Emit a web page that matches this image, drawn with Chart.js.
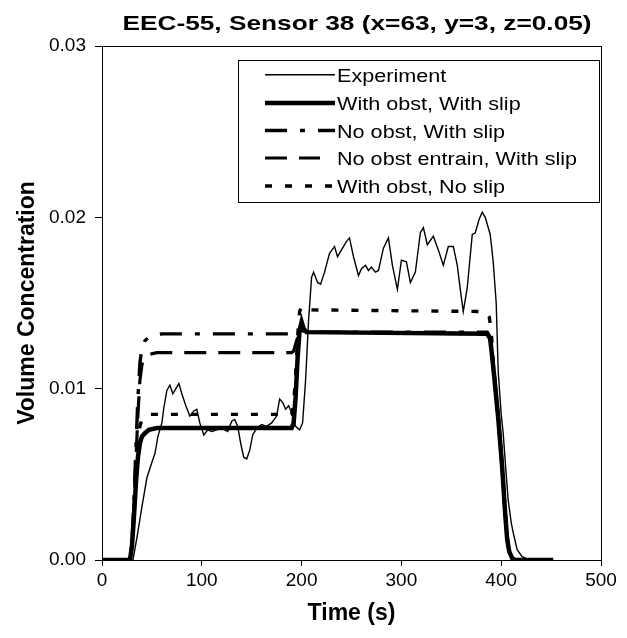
<!DOCTYPE html>
<html><head><meta charset="utf-8">
<script src="https://cdn.jsdelivr.net/npm/chart.js@4.4.0/dist/chart.umd.min.js"></script>
<style>html,body{margin:0;padding:0;background:#fff}</style>
</head><body>
<canvas id="c" width="627" height="638"></canvas>
<script>
const titleText = 'EEC-55, Sensor 38 (x=63, y=3, z=0.05)';
const xTitle = 'Time (s)';
const yTitle = 'Volume Concentration';
const xTickValues = [0, 100, 200, 300, 400, 500];
const yTickValues = [0.00, 0.01, 0.02, 0.03];
const seriesNames = ['Experiment', 'With obst, With slip', 'No obst, With slip', 'No obst entrain, With slip', 'With obst, No slip'];

// Experiment
const expT = [0,31,35,40,45,50,53,56,60,62,65,68,71,74,77,80,84,88,92,95,98,102,106,110,115,120,126,130,133,136,139,142,145,148,151,155,160,165,170,175,178,181,184,187,190,194,198,201,204,207,210,212,216,219,223,228,233,236,241,245,248,252,257,260,264,267,270,274,277,282,287,291,296,300,305,309,314,319,322,326,332,337,342,347,352,356,359,362,366,371,374,378,381,384,389,392,395,397,400,402,405,407,410,412,416,421,428,452];
const expC = [0,0,0.0013,0.0031,0.0048,0.0057,0.0062,0.0072,0.0080,0.0089,0.0099,0.0102,0.0097,0.0100,0.0103,0.0097,0.0090,0.0084,0.0087,0.0088,0.0080,0.0073,0.0076,0.0075,0.0076,0.0077,0.0075,0.0081,0.0082,0.0078,0.0068,0.0060,0.0059,0.0064,0.0073,0.0077,0.0079,0.0078,0.0080,0.0084,0.0094,0.0092,0.0088,0.0090,0.0086,0.0078,0.0076,0.0080,0.0105,0.0140,0.0165,0.0168,0.0162,0.0161,0.0168,0.0179,0.0183,0.0177,0.0182,0.0186,0.0188,0.0177,0.0166,0.0170,0.0172,0.0169,0.0171,0.0168,0.0169,0.0182,0.0188,0.0172,0.0158,0.0175,0.0174,0.0162,0.0168,0.0191,0.0194,0.0184,0.0189,0.0181,0.0172,0.0183,0.0183,0.0172,0.0158,0.0145,0.0159,0.0190,0.0191,0.0199,0.0203,0.0200,0.0190,0.0174,0.0150,0.0110,0.0085,0.0074,0.0050,0.0035,0.0022,0.0016,0.0006,0.0002,0,0];

// With obst, With slip
const wowsT = [0,28,30,32,34,36,38,40,43,47,55,190,192,194,196,198,200,202,205,386,389,392,397,401,404,406,408,411,414,452];
const wowsC = [0,0,0.0008,0.0025,0.0045,0.0060,0.0068,0.0072,0.0074,0.0076,0.0077,0.0077,0.0080,0.0095,0.0118,0.0134,0.0139,0.0135,0.0133,0.0132,0.0129,0.0113,0.0083,0.0054,0.0027,0.0012,0.0005,0.0001,0,0];

// No obst, With slip
const nowsT = [0,28,30,32,34,36,38,40,43,47,52,60,190,193,200,205,386,389,392,397,401,404,406,408,411,414,452];
const nowsC = [0,0,0.0010,0.0035,0.0065,0.0095,0.0115,0.0124,0.0128,0.0130,0.0131,0.0132,0.0132,0.0133,0.0134,0.0133,0.0133,0.0130,0.0114,0.0084,0.0055,0.0028,0.0013,0.0005,0.0001,0,0];

// No obst entrain, With slip
const noewsT = [0,28,30,32,34,36,38,40,43,47,55,190,192,195,198,205,386,389,392,397,401,404,406,408,411,414,452];
const noewsC = [0,0,0.0009,0.0030,0.0058,0.0085,0.0105,0.0114,0.0118,0.0120,0.0121,0.0121,0.0122,0.0128,0.0133,0.0133,0.0132,0.0129,0.0112,0.0082,0.0053,0.0026,0.0012,0.0005,0.0001,0,0];

// With obst, No slip
const wonsT = [0,28,30,32,34,36,38,40,43,48,190,192,194,196,198,200,203,208,385,388,390,392,397,401,404,406,408,411,414,452];
const wonsC = [0,0,0.0008,0.0028,0.0052,0.0068,0.0078,0.0082,0.0084,0.0085,0.0085,0.0090,0.0108,0.0130,0.0145,0.0148,0.0147,0.0146,0.0145,0.0142,0.0134,0.0115,0.0084,0.0055,0.0028,0.0013,0.0005,0.0001,0,0];

const pts = (t, c) => t.map((v, i) => ({x: v, y: c[i]}));

const styles = [
  {borderWidth: 1.4, borderDash: []},
  {borderWidth: 4.5, borderDash: []},
  {borderWidth: 3.4, borderDash: [22, 13, 5, 13]},
  {borderWidth: 3.2, borderDash: [22, 12]},
  {borderWidth: 3.4, borderDash: [7, 13]}
];
const seriesData = [pts(expT, expC), pts(wowsT, wowsC), pts(nowsT, nowsC), pts(noewsT, noewsC), pts(wonsT, wonsC)];

const datasets = seriesNames.map((n, i) => ({
  label: n,
  data: seriesData[i],
  borderColor: '#000',
  backgroundColor: '#000',
  borderWidth: styles[i].borderWidth,
  borderDash: styles[i].borderDash,
  pointRadius: 0,
  tension: 0,
  fill: false,
  order: i
}));

const FONT = "'Liberation Sans', Arial, sans-serif";

const decor = {
  id: 'decor',
  afterDraw(chart) {
    const ctx = chart.ctx;
    const a = chart.chartArea;
    ctx.save();
    ctx.strokeStyle = '#000';
    ctx.lineWidth = 1;
    ctx.setLineDash([]);
    ctx.strokeRect(a.left + 0.5, a.top + 0.5, a.right - a.left, a.bottom - a.top);
    ctx.fillStyle = '#000';
    ctx.font = 'bold 21px ' + FONT;
    ctx.textBaseline = 'alphabetic';
    ctx.textAlign = 'center';
    ctx.save();
    ctx.translate(357, 30);
    ctx.scale(1.25, 1);
    ctx.fillText(titleText, 0, 0);
    ctx.restore();
    const bx = 238, by = 60, bw = 361, bh = 142;
    ctx.fillStyle = '#fff';
    ctx.fillRect(bx, by, bw, bh);
    ctx.strokeStyle = '#000';
    ctx.lineWidth = 1;
    ctx.strokeRect(bx + 0.5, by + 0.5, bw, bh);
    const baselines = [81.7, 110, 137.5, 165, 193];
    const lineEnds = [335, 335, 335, 320, 335];
    chart.data.datasets.forEach((ds, i) => {
      const ly = baselines[i] - 7;
      ctx.save();
      ctx.strokeStyle = '#000';
      ctx.lineWidth = ds.borderWidth;
      ctx.setLineDash(ds.borderDash || []);
      ctx.beginPath();
      ctx.moveTo(265, ly);
      ctx.lineTo(lineEnds[i], ly);
      ctx.stroke();
      ctx.restore();
      ctx.save();
      ctx.fillStyle = '#000';
      ctx.font = '18px ' + FONT;
      ctx.textAlign = 'left';
      ctx.textBaseline = 'alphabetic';
      ctx.translate(337, baselines[i]);
      ctx.scale(1.2, 1);
      ctx.fillText(ds.label, 0, 0);
      ctx.restore();
    });
    ctx.restore();
  }
};

new Chart(document.getElementById('c'), {
  type: 'line',
  data: {datasets},
  options: {
    responsive: false,
    animation: false,
    devicePixelRatio: 1,
    layout: {padding: {top: 46, right: 26, left: 0, bottom: 0}},
    plugins: {legend: {display: false}, title: {display: false}, tooltip: {enabled: false}},
    scales: {
      x: {
        type: 'linear', min: 0, max: 500,
        afterBuildTicks: s => { s.ticks = xTickValues.map(v => ({value: v})); },
        ticks: {font: {family: FONT, size: 19}, color: '#000', padding: 3, maxRotation: 0,
          callback: v => String(v)},
        grid: {display: true, drawOnChartArea: false, drawTicks: true, tickLength: 6, color: '#000', lineWidth: 1},
        border: {display: true, color: '#000', width: 1},
        title: {display: true, text: xTitle, color: '#000', font: {family: FONT, size: 23, weight: 'bold'}, padding: {top: 0, bottom: 11}},
        afterFit: s => { s.height = 78; }
      },
      y: {
        type: 'linear', min: 0, max: 0.03,
        afterBuildTicks: s => { s.ticks = yTickValues.map(v => ({value: v})); },
        ticks: {font: {family: FONT, size: 19}, color: '#000', padding: 9,
          callback: v => Number(v).toFixed(2)},
        grid: {display: true, drawOnChartArea: false, drawTicks: true, tickLength: 7, color: '#000', lineWidth: 1},
        border: {display: true, color: '#000', width: 1},
        title: {display: true, text: yTitle, color: '#000', font: {family: FONT, size: 23, weight: 'bold'}, padding: {top: 14, bottom: 0}},
        afterFit: s => { s.width = 102; }
      }
    }
  },
  plugins: [decor]
});
</script>
</body></html>
